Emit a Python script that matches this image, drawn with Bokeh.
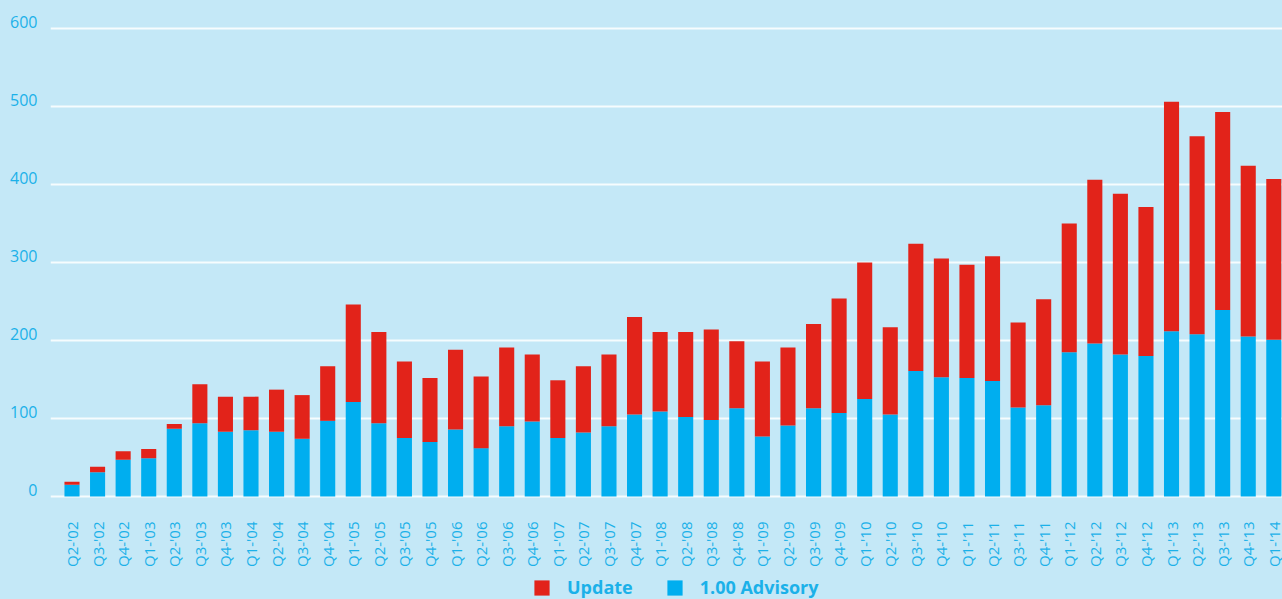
import math
from bokeh.plotting import figure
from bokeh.core.properties import value
from bokeh.models import (ColumnDataSource, FixedTicker, Range1d, Legend, LegendItem,
                          LinearAxis, LabelSet, GlobalInlineStyleSheet)
from bokeh.embed import file_html
from bokeh.resources import INLINE

# ---------------- data ----------------
quarters = ["Q2-'02", "Q3-'02", "Q4-'02",
            "Q1-'03", "Q2-'03", "Q3-'03", "Q4-'03",
            "Q1-'04", "Q2-'04", "Q3-'04", "Q4-'04",
            "Q1-'05", "Q2-'05", "Q3-'05", "Q4-'05",
            "Q1-'06", "Q2-'06", "Q3-'06", "Q4-'06",
            "Q1-'07", "Q2-'07", "Q3-'07", "Q4-'07",
            "Q1-'08", "Q2-'08", "Q3-'08", "Q4-'08",
            "Q1-'09", "Q2-'09", "Q3-'09", "Q4-'09",
            "Q1-'10", "Q2-'10", "Q3-'10", "Q4-'10",
            "Q1-'11", "Q2-'11", "Q3-'11", "Q4-'11",
            "Q1-'12", "Q2-'12", "Q3-'12", "Q4-'12",
            "Q1-'13", "Q2-'13", "Q3-'13", "Q4-'13",
            "Q1-'14"]

advisory = [15, 31, 47,
            49, 87, 94, 83,
            85, 83, 74, 97,
            121, 94, 75, 70,
            86, 62, 90, 96,
            75, 82, 90, 105,
            109, 102, 98, 113,
            77, 91, 113, 107,
            125, 105, 161, 153,
            152, 148, 114, 117,
            185, 196, 182, 180,
            212, 208, 239, 205,
            201]

update = [4, 7, 11,
          12, 6, 50, 45,
          43, 54, 56, 70,
          125, 117, 98, 82,
          102, 92, 101, 86,
          74, 85, 92, 125,
          102, 109, 116, 86,
          96, 100, 108, 147,
          175, 112, 163, 152,
          145, 160, 109, 136,
          165, 210, 206, 191,
          294, 254, 254, 219,
          206]

y_ticks = [0, 100, 200, 300, 400, 500, 600]

series_names = ["1.00 Advisory", "Update"]

# ---------------- style ----------------
BG = "#c4e8f7"
BLUE = "#00aeef"
RED = "#e2231a"
TXT = "#1bb1e9"

x_pos = list(range(len(quarters)))
x_start, x_end = -0.841, len(quarters) - 1 + 0.34
y_start, y_end = -132.05, 612.82
lab_shift = 7.7   # moves the value labels to sit just above their grid lines

src = ColumnDataSource(dict(x=x_pos, advisory=advisory, update=update))

p = figure(width=1282, height=599, output_backend="svg", toolbar_location=None,
           x_range=Range1d(x_start, x_end), y_range=Range1d(y_start, y_end),
           min_border_left=50, min_border_right=0, min_border_top=18,
           min_border_bottom=0)
p.background_fill_color = BG
p.border_fill_color = BG
p.outline_line_color = None
p.stylesheets = [GlobalInlineStyleSheet(css="html, body { background-color: #c4e8f7; }")]

rs = p.vbar_stack(["advisory", "update"], x="x", width=0.59, source=src,
                  color=[BLUE, RED], line_color=None)

# grid
p.xgrid.grid_line_color = None
p.ygrid.ticker = FixedTicker(ticks=y_ticks)
p.ygrid.grid_line_color = "white"
p.ygrid.grid_line_width = 2
p.ygrid.grid_line_alpha = 0.85

# default axes hidden; labelled y axis on a slightly shifted range
p.xaxis.visible = False
p.yaxis.visible = False
p.extra_y_ranges = {"lab": Range1d(y_start - lab_shift, y_end - lab_shift)}
yax = LinearAxis(y_range_name="lab", ticker=FixedTicker(ticks=y_ticks))
yax.axis_line_color = None
yax.major_tick_line_color = None
yax.minor_tick_line_color = None
yax.major_tick_out = 0
yax.major_label_standoff = 13
yax.major_label_text_font = "Open Sans"
yax.major_label_text_font_size = "16px"
yax.major_label_text_color = TXT
p.add_layout(yax, "left")

# category labels under the bars, rotated
xlab_src = ColumnDataSource(dict(x=x_pos, y=[0] * len(quarters), text=quarters))
p.add_layout(LabelSet(x="x", y="y", text="text", source=xlab_src,
                      angle=math.pi / 2, y_offset=-25,
                      text_align="right", text_baseline="middle",
                      text_font=value("Open Sans"), text_font_size=value("15px"),
                      text_color=TXT))

# legend
legend = Legend(items=[LegendItem(label=series_names[1], renderers=[rs[1]]),
                       LegendItem(label=series_names[0], renderers=[rs[0]])],
                orientation="horizontal", location=(482, 0),
                glyph_width=19, glyph_height=19, label_standoff=16, spacing=32,
                label_height=19,
                padding=0, margin=0, border_line_color=None,
                background_fill_alpha=0,
                label_text_font="Open Sans", label_text_font_style="bold",
                label_text_font_size="18px", label_text_color=TXT)
p.add_layout(legend)

open("out.html", "w").write(file_html(p, INLINE))
